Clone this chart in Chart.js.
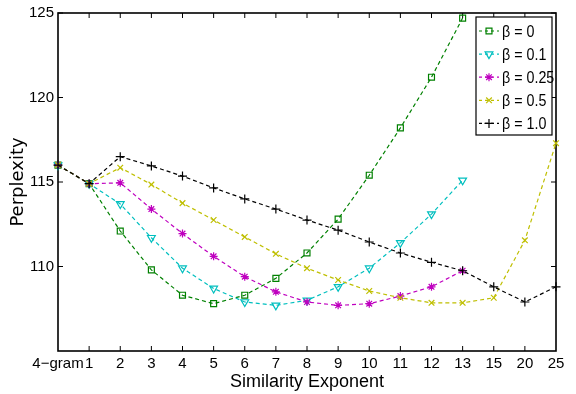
<!DOCTYPE html>
<html>
<head>
<meta charset="utf-8">
<script src="https://cdn.jsdelivr.net/npm/chart.js@4.4.1/dist/chart.umd.min.js"></script>
<style>
  body { margin: 0; background: #fff; }
</style>
</head>
<body>
<canvas id="myChart" width="576" height="394"></canvas>
<script>
// x categories (4-gram baseline, then similarity exponents)
const categories = ['4\u2212gram', '1', '2', '3', '4', '5', '6', '7', '8', '9', '10', '11', '12', '13', '15', '20', '25'];
const yTicks = [110, 115, 120, 125];

const seriesLabels = ['\u03b2 = 0', '\u03b2 = 0.1', '\u03b2 = 0.25', '\u03b2 = 0.5', '\u03b2 = 1.0'];

const beta0   = [116.0, 114.9, 112.1, 109.8, 108.3, 107.8, 108.3, 109.3, 110.8, 112.8, 115.4, 118.2, 121.2, 124.7];
const beta01  = [116.0, 114.9, 113.7, 111.7, 109.9, 108.7, 107.9, 107.7, 108.0, 108.8, 109.9, 111.4, 113.1, 115.1];
const beta025 = [116.0, 114.9, 114.95, 113.4, 111.95, 110.6, 109.4, 108.5, 107.9, 107.7, 107.8, 108.25, 108.8, 109.75];
const beta05  = [116.0, 114.9, 115.85, 114.85, 113.75, 112.75, 111.75, 110.75, 109.9, 109.2, 108.55, 108.15, 107.85, 107.85, 108.15, 111.55, 117.3];
const beta1   = [116.0, 114.9, 116.5, 115.95, 115.35, 114.65, 114.0, 113.4, 112.75, 112.15, 111.45, 110.8, 110.25, 109.75, 108.8, 107.9, 108.8];

const seriesData = [beta0, beta01, beta025, beta05, beta1];

// matlab-ish line specs: g--s, c--v, m--*, y--x, k--+
const styles = [
  { color: '#008000', marker: 'rect', radius: 4.2, rotation: 0 },
  { color: '#00bfbf', marker: 'triangle', radius: 4.5, rotation: 180 },
  { color: '#bf00bf', marker: 'star', radius: 4, rotation: 0 },
  { color: '#bfbf00', marker: 'crossRot', radius: 4, rotation: 0 },
  { color: '#000000', marker: 'cross', radius: 4.5, rotation: 0 },
];

const datasets = seriesData.map((d, i) => ({
  label: seriesLabels[i],
  data: d,
  borderColor: styles[i].color,
  backgroundColor: 'rgba(0,0,0,0)',
  borderWidth: 1.2,
  borderDash: [4, 3],
  tension: 0,
  fill: false,
  pointStyle: styles[i].marker,
  pointRadius: styles[i].radius,
  pointRotation: styles[i].rotation,
  pointBorderWidth: 1.2,
  pointBorderColor: styles[i].color,
  pointBackgroundColor: 'rgba(0,0,0,0)',
  order: seriesData.length - i, // black on top, like matlab
}));

const sans = '"Liberation Sans", Arial, sans-serif';

// box round the axes, with matlab style inward ticks
const framePlugin = {
  id: 'frame',
  beforeDatasetsDraw(chart) {
    const { ctx, chartArea: a, scales } = chart;
    ctx.save();
    ctx.strokeStyle = '#000';
    ctx.lineWidth = 1;
    ctx.beginPath();
    categories.forEach((c, i) => {
      if (i === 0 || i === categories.length - 1) return;
      const px = scales.x.getPixelForValue(i);
      ctx.moveTo(px, a.bottom); ctx.lineTo(px, a.bottom - 5);
      ctx.moveTo(px, a.top); ctx.lineTo(px, a.top + 5);
    });
    yTicks.forEach(v => {
      const py = scales.y.getPixelForValue(v);
      ctx.moveTo(a.left, py); ctx.lineTo(a.left + 5, py);
      ctx.moveTo(a.right, py); ctx.lineTo(a.right - 5, py);
    });
    ctx.stroke();
    ctx.lineWidth = 1.6;
    ctx.strokeRect(a.left, a.top, a.right - a.left, a.bottom - a.top);
    ctx.restore();
  }
};

// legend box inside the plot, top right
const boxLegend = {
  id: 'boxLegend',
  afterDraw(chart) {
    const { ctx, chartArea: a } = chart;
    const bx = a.right - 80, by = a.top + 4, bw = 76, bh = 118;
    ctx.save();
    ctx.fillStyle = '#fff';
    ctx.fillRect(bx, by, bw, bh);
    ctx.strokeStyle = '#000';
    ctx.lineWidth = 1.2;
    ctx.strokeRect(bx, by, bw, bh);
    chart.data.datasets.forEach((ds, i) => {
      const ry = by + 14 + i * 23.1;
      ctx.strokeStyle = ds.borderColor;
      ctx.lineWidth = 1.2;
      ctx.setLineDash([3, 3]);
      ctx.beginPath();
      ctx.moveTo(bx + 3, ry);
      ctx.lineTo(bx + 23, ry);
      ctx.stroke();
      ctx.setLineDash([]);
      ctx.fillStyle = 'rgba(0,0,0,0)';
      Chart.helpers.drawPoint(ctx, {
        pointStyle: ds.pointStyle,
        radius: ds.pointRadius,
        rotation: ds.pointRotation,
        borderWidth: 1.2,
      }, bx + 13, ry);
      // squeezed text, the figure's fonts look condensed
      ctx.save();
      ctx.translate(bx + 26, ry + 1);
      ctx.scale(0.84, 1);
      ctx.fillStyle = '#000';
      ctx.font = '17px ' + sans;
      ctx.textBaseline = 'middle';
      ctx.textAlign = 'left';
      ctx.fillText(ds.label, 0, 0);
      ctx.restore();
    });
    ctx.restore();
  }
};

const ctx = document.getElementById('myChart').getContext('2d');

const config = {
  type: 'line',
  data: {
    labels: categories,
    datasets: datasets,
  },
  options: {
    responsive: false,
    animation: false,
    layout: {
      padding: { top: 13, right: 20, left: 0, bottom: 0 },
    },
    plugins: {
      legend: { display: false },
      tooltip: { enabled: false },
    },
    scales: {
      x: {
        type: 'category',
        offset: false,
        grid: { display: false, drawTicks: false },
        border: { display: false },
        ticks: {
          autoSkip: false,
          maxRotation: 0,
          padding: 4,
          color: '#000',
          font: { size: 15, family: sans },
        },
        title: {
          display: true,
          text: 'Similarity Exponent',
          color: '#000',
          font: { size: 18, family: sans },
          padding: { top: 0, bottom: 1 },
        },
        afterFit: s => { s.height = 43; },
      },
      y: {
        min: 105,
        max: 125,
        grid: { display: false, drawTicks: false },
        border: { display: false },
        ticks: {
          stepSize: 5,
          padding: 4,
          color: '#000',
          font: { size: 15, family: sans },
          callback: v => (yTicks.includes(v) ? String(v) : ''),
        },
        title: {
          display: true,
          text: 'Perplexity',
          color: '#000',
          font: { size: 18, family: '"DejaVu Sans", sans-serif' },
          padding: { top: 8, bottom: 0 },
        },
        afterFit: s => { s.width = 58; },
      },
    },
  },
  plugins: [framePlugin, boxLegend],
};

const perplexityChart = new Chart(ctx, config);
</script>
</body>
</html>
